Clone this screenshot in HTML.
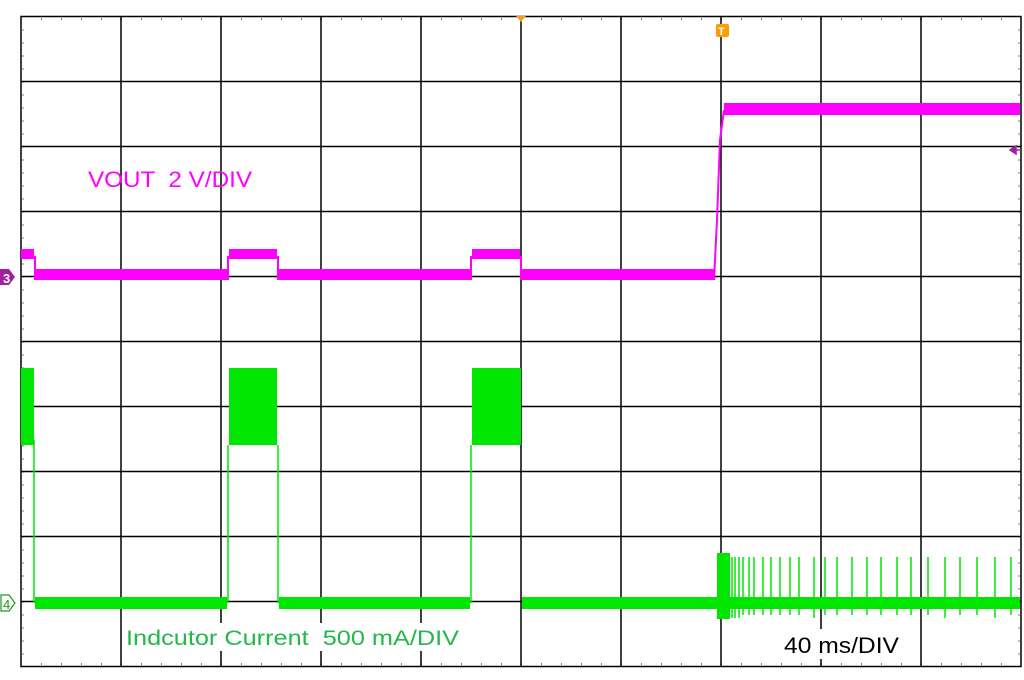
<!DOCTYPE html>
<html><head><meta charset="utf-8"><style>
body{margin:0;background:#fff;}
svg{display:block;font-family:"Liberation Sans",sans-serif;}
text{white-space:pre;}
</style></head><body>
<svg width="1024" height="680" viewBox="0 0 1024 680" xmlns="http://www.w3.org/2000/svg">
<rect width="1024" height="680" fill="#fff"/>
<g stroke="#000" stroke-width="1.5" fill="none">
<rect x="21" y="16.5" width="1000" height="650"/>
<path d="M121 16.5V666.5M221 16.5V666.5M321 16.5V666.5M421 16.5V666.5M521 16.5V666.5M621 16.5V666.5M721 16.5V666.5M821 16.5V666.5M921 16.5V666.5"/>
<path d="M21 81.5H1021M21 146.5H1021M21 211.5H1021M21 276.5H1021M21 341.5H1021M21 406.5H1021M21 471.5H1021M21 536.5H1021M21 601.5H1021"/>
</g>
<g stroke="#000" stroke-width="1" stroke-dasharray="1 19">
<path d="M41 19H1021M41 664H1021"/>
</g>
<g stroke="#000" stroke-width="1" stroke-dasharray="1 12">
<path d="M23 29.5V666M1019 29.5V666"/>
</g>
<g fill="#ff00ff">
<rect x="21" y="249" width="13" height="10"/>
<rect x="34" y="256" width="2" height="24"/>
<rect x="35" y="269" width="192" height="11"/>
<rect x="227" y="256" width="2" height="24"/>
<rect x="229" y="249" width="48" height="10"/>
<rect x="277" y="256" width="2" height="24"/>
<rect x="279" y="269" width="191" height="11"/>
<rect x="470" y="256" width="2" height="24"/>
<rect x="472" y="249" width="48" height="10"/>
<rect x="520" y="256" width="2" height="24"/>
<rect x="522" y="269" width="192" height="11"/>
<rect x="724" y="103" width="296" height="12"/>
</g>
<path d="M714 280L717 220L720 140L724 110" stroke="#ff00ff" stroke-width="2" fill="none"/>
<g fill="#00e600">
<rect x="21" y="368" width="13" height="77"/>
<rect x="229" y="368" width="48" height="77"/>
<rect x="472" y="368" width="49" height="77"/>
<rect x="35" y="597" width="192" height="12"/>
<rect x="279" y="597" width="191" height="12"/>
<rect x="522" y="597" width="195" height="12"/>
<rect x="730" y="597" width="290" height="12"/>
<rect x="717" y="553" width="13" height="66"/>
</g>
<g stroke="#00e600" stroke-width="1.5">
<path d="M34 440V603M228 445V603M278 445V603M471 445V603"/>
<path d="M732 557V618M735 557V618M739 557V618M743 557V615M749 557V615M754 557V615M763 557V615M771 557V615M780 557V615M790 557V615M799 557V615M814 557V618M825 557V615M837 557V615M852 557V615M867 557V615M881 557V615M897 557V615M911 557V615M928 557V615M945 557V618M960 557V615M977 557V615M995 557V618M1011 557V615"/>
</g>
<text x="88" y="187" font-size="22" fill="#ff00ff" textLength="164" lengthAdjust="spacingAndGlyphs">VOUT  2 V/DIV</text>
<rect x="122" y="623" width="342" height="28" fill="#fff"/>
<text x="126" y="645" font-size="21" fill="#22b84a" textLength="333" lengthAdjust="spacingAndGlyphs">Indcutor Current  500 mA/DIV</text>
<rect x="780" y="629" width="124" height="30" fill="#fff"/>
<text x="784" y="653" font-size="22" fill="#000" textLength="115" lengthAdjust="spacingAndGlyphs">40 ms/DIV</text>
<path d="M0 269H9L15 277L9 285H0Z" fill="#a020a0"/>
<text x="3" y="283" font-size="13" font-weight="bold" fill="#fff">3</text>
<path d="M1 595H9L15 603L9 611H1Z" fill="#fff" stroke="#1a9a1a" stroke-width="1.2"/>
<text x="3" y="609" font-size="13" fill="#1a9a1a">4</text>
<path d="M516 16L526 16L521 22Z" fill="#f0a020"/>
<rect x="716" y="24" width="13" height="13" rx="2" fill="#ff9c00"/>
<text x="718" y="35" font-size="11" font-weight="bold" fill="#fff">T</text>
<path d="M1010 150L1016 146V154Z M1015 150H1021" fill="#a020a0" stroke="#a020a0" stroke-width="1.5"/>
</svg>
</body></html>
